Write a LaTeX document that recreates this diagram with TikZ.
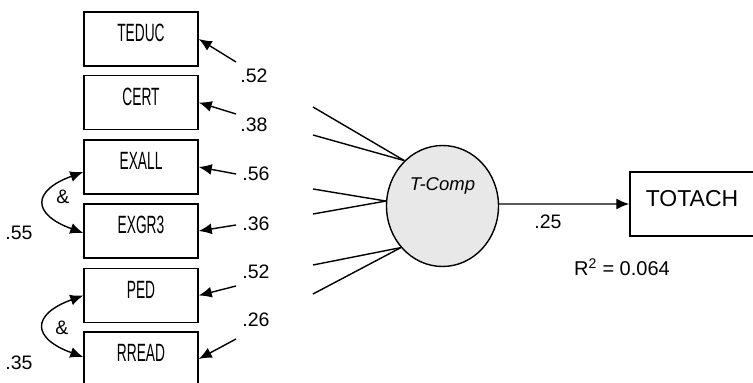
\documentclass[tikz,border=0pt]{standalone}
\usepackage{fontspec}
\setmainfont{Liberation Sans}
\usepackage{graphicx}
\usetikzlibrary{shapes.geometric, arrows.meta, calc}
\newcommand{\stretto}[1]{\scalebox{0.55}[1]{#1}}

\begin{document}
\begin{tikzpicture}[x = 1pt, y = 1pt,
    osservata/.style = {draw, line width = 1.5pt, minimum width = 114pt, inner sep = 0pt, text height = 30pt, text depth = 24pt, font = \fontsize{25}{25}\selectfont},
    latente/.style = {draw, ellipse, line width = 1.4pt, fill = black!9, minimum width = 112pt, minimum height = 121pt, inner sep = 0pt},
    freccia/.style = {-{Latex[length = 13pt, width = 11pt]}, line width = 1.4pt},
    doppia/.style = {{Latex[length = 13pt, width = 11pt]}-{Latex[length = 13pt, width = 11pt]}, line width = 1.4pt, looseness = 2.3},
    coeff/.style = {inner sep = 0pt, font = \fontsize{19.5}{19.5}\selectfont}]
    % Variabili
    \pgfmathsetmacro{\xbox}{141}
    \pgfmathsetmacro{\xerr}{236}
    \pgfmathsetmacro{\xlab}{256}
    % Cornice
    \clip (0,0) rectangle (753,383);
    % Indicatori
    \node[osservata] (teduc) at (\xbox,344) {\stretto{TEDUC}};
    \node[osservata] (cert) at (\xbox,280.5) {\stretto{CERT}};
    \node[osservata] (exall) at (\xbox,216) {\stretto{EXALL}};
    \node[osservata] (exgr) at (\xbox,152) {\stretto{EXGR3}};
    \node[osservata] (ped) at (\xbox,87.5) {\stretto{PED}};
    \node[osservata] (rread) at (\xbox,24) {\stretto{RREAD}};
    % Errori
    \coordinate (e1) at (\xerr,321);
    \coordinate (e2) at (\xerr,269);
    \coordinate (e3) at (\xerr,209);
    \coordinate (e4) at (\xerr,158);
    \coordinate (e5) at (\xerr,97);
    \coordinate (e6) at (\xerr,44);
    \draw[freccia] (e1) -- (teduc.east);
    \draw[freccia] (e2) -- (cert.east);
    \draw[freccia] (e3) -- (exall.east);
    \draw[freccia] (e4) -- (exgr.east);
    \draw[freccia] (e5) -- (ped.east);
    \draw[freccia] (e6) -- (rread.east);
    \node[coeff] (c1) at (254,307) {.52};
    \node[coeff] (c2) at (254,258) {.38};
    \node[coeff] (c3) at (\xlab,209) {.56};
    \node[coeff] (c4) at (\xlab,159) {.36};
    \node[coeff] (c5) at (\xlab,111) {.52};
    \node[coeff] (c6) at (\xlab,63) {.26};
    % Correlazioni
    \draw[doppia] ([yshift = -5pt]exall.west) to[out = 200, in = 160] ([yshift = -2pt]exgr.west);
    \draw[doppia] (ped.west) to[out = 200, in = 160] ([yshift = 2pt]rread.west);
    \node[coeff] (and1) at (63,186) {\&};
    \node[coeff] (and2) at (62,55) {\&};
    \node[coeff] (r1) at (19,150) {.55};
    \node[coeff] (r2) at (19,20) {.35};
    % Variabile latente
    \node[latente, label = {[font = \fontsize{18.5}{18.5}\selectfont\itshape, yshift = 20pt]center:T-Comp}] (tcomp) at (442.5,177) {};
    \coordinate (l1) at (313,276);
    \coordinate (l2) at (313,248);
    \coordinate (l3) at (313,194);
    \coordinate (l4) at (313,169);
    \coordinate (l5) at (313,118);
    \coordinate (l6) at (313,89);
    \draw[line width = 1.4pt] (l1) -- (tcomp.130);
    \draw[line width = 1.4pt] (l2) -- (tcomp.130);
    \draw[line width = 1.4pt] (l3) -- (tcomp.175);
    \draw[line width = 1.4pt] (l4) -- (tcomp.175);
    \draw[line width = 1.4pt] (l5) -- (tcomp.225);
    \draw[line width = 1.4pt] (l6) -- (tcomp.225);
    % Esito
    \node[osservata, minimum width = 124pt, text height = 35pt, text depth = 29pt, font = \fontsize{23}{23}\selectfont] (totach) at (692,179) {TOTACH};
    \draw[freccia] (tcomp.2) -- (totach.west);
    \node[coeff] (beta) at (548,161) {.25};
    \node[coeff, font = \fontsize{20}{20}\selectfont] (rq) at (622,116) {R\textsuperscript{2} = 0.064};
\end{tikzpicture}
\end{document}
